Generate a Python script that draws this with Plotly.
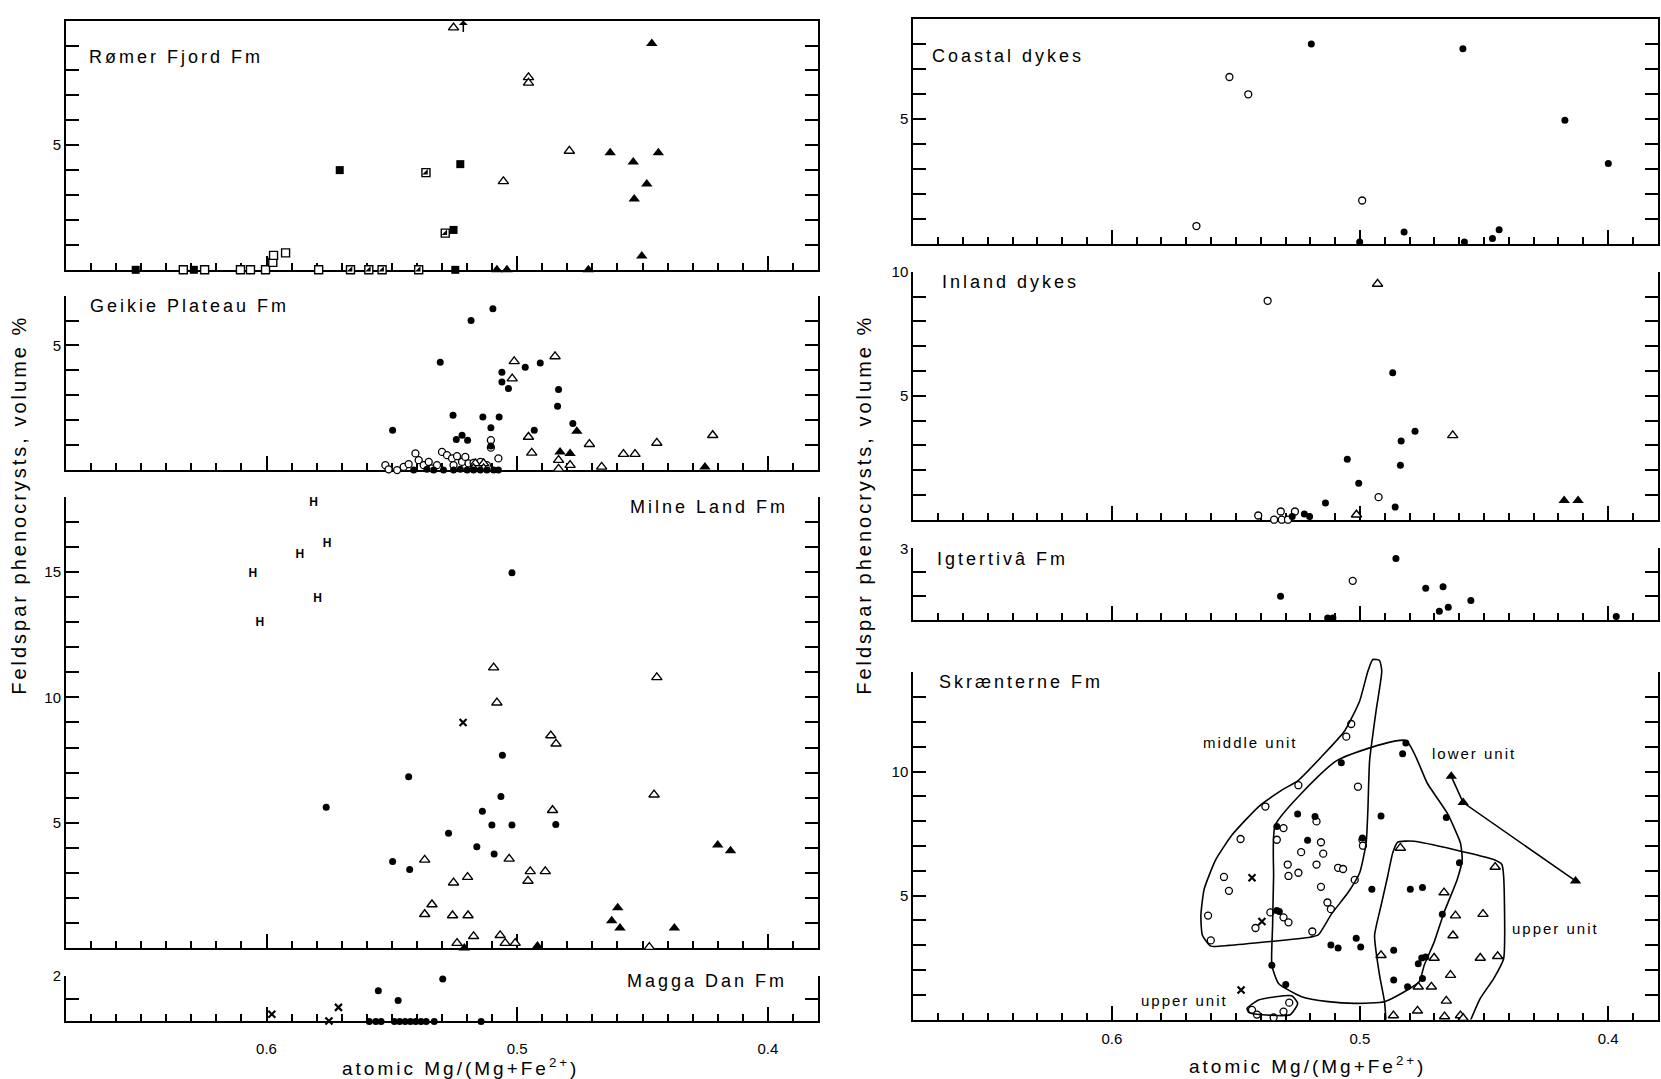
import numpy as np
import plotly.graph_objects as go

FONT = "Liberation Sans, Arial, Helvetica, sans-serif"
W, H = 1661, 1079

# ---------------- data (x = atomic Mg/(Mg+Fe2+), y = feldspar vol %) ----------------
# Rømer Fjord Fm
romer_fsq_x = [0.5708, 0.5227, 0.5254, 0.6522, 0.6290, 0.5247]
romer_fsq_y = [4.0, 4.24, 1.6, 0.0, 0.0, 0.0]
romer_osq_x = [0.6332, 0.6247, 0.6104, 0.6064, 0.6004, 0.5975, 0.5972, 0.5924, 0.5792]
romer_osq_y = [0.0, 0.0, 0.0, 0.0, 0.0, 0.3, 0.58, 0.68, 0.0]
romer_hsq_x = [0.5364, 0.5287, 0.5665, 0.5592, 0.5539, 0.5393]
romer_hsq_y = [3.9, 1.47, 0.0, 0.0, 0.0, 0.0]
romer_otri_x = [0.5254, 0.4955, 0.4955, 0.4792, 0.5055]
romer_otri_y = [9.72, 7.72, 7.5, 4.77, 3.55]
romer_ftri_x = [0.4463, 0.4629, 0.4537, 0.4437, 0.4483, 0.4533, 0.4503, 0.5081, 0.5041, 0.4716]
romer_ftri_y = [9.08, 4.7, 4.33, 4.7, 3.44, 2.84, 0.55, 0.0, 0.0, 0.0]
romer_offscale_x = 0.5215

# Geikie Plateau Fm
geikie_dot_x = [0.5184, 0.5097, 0.5307, 0.4968, 0.4908, 0.5061, 0.5061, 0.5035, 0.4835, 0.4839,
                0.5256, 0.5137, 0.5072, 0.5497, 0.5105, 0.4932, 0.4778, 0.5243, 0.5220, 0.5198,
                0.5105, 0.5493, 0.5413, 0.5360, 0.5333, 0.5294, 0.5254, 0.5227, 0.5200, 0.5174,
                0.5147, 0.5121, 0.5094, 0.5075]
geikie_dot_y = [6.0, 6.47, 4.33, 4.13, 4.3, 3.93, 3.53, 3.27, 3.23, 2.56,
                2.2, 2.13, 2.13, 1.6, 1.7, 1.6, 1.87, 1.23, 1.4, 1.2,
                0.97, -0.07, 0.0, 0.03, 0.0, 0.0, 0.0, 0.03, 0.0, 0.0,
                0.0, 0.0, 0.0, 0.0]
geikie_ocirc_x = [0.5526, 0.5513, 0.5479, 0.5453, 0.5433, 0.5406, 0.5393, 0.5373, 0.5353, 0.5340,
                  0.5320, 0.5300, 0.5280, 0.5260, 0.5240, 0.5220, 0.5207, 0.5194, 0.5174, 0.5154,
                  0.5105, 0.5105, 0.5075, 0.4789, 0.5254, 0.5147, 0.5121]
geikie_ocirc_y = [0.2, 0.03, 0.0, 0.13, 0.24, 0.67, 0.4, 0.2, 0.33, 0.07,
                  0.2, 0.73, 0.6, 0.47, 0.56, 0.33, 0.53, 0.27, 0.29, 0.2,
                  1.2, 0.9, 0.47, -0.07, 0.2, 0.33, 0.2]
geikie_otri_x = [0.5012, 0.4849, 0.5020, 0.4955, 0.4712, 0.4443, 0.4220, 0.4942, 0.4576, 0.4530,
                 0.4835, 0.4789, 0.4835, 0.4663, 0.5167, 0.5134, 0.5174, 0.5134]
geikie_otri_y = [4.36, 4.56, 3.67, 1.33, 1.04, 1.09, 1.4, 0.69, 0.64, 0.64,
                 0.4, 0.2, 0.05, 0.13, 0.27, 0.27, 0.07, 0.07]
geikie_ftri_x = [0.4762, 0.4829, 0.4789, 0.4251]
geikie_ftri_y = [1.56, 0.73, 0.67, 0.13]
geikie_plus_x = [0.6382]
geikie_plus_y = [-0.1]

# Milne Land Fm
milne_h_x = [0.5812, 0.5758, 0.5867, 0.6055, 0.5796, 0.6027]
milne_h_y = [17.77, 16.13, 15.67, 14.93, 13.92, 12.97]
milne_x_x = [0.5216]
milne_x_y = [9.0]
milne_dot_x = [0.5021, 0.5433, 0.5762, 0.5059, 0.5065, 0.5139, 0.5101, 0.5021, 0.4846, 0.5274,
               0.5161, 0.5092, 0.5497, 0.5429]
milne_dot_y = [14.97, 6.84, 5.62, 7.69, 6.05, 5.46, 4.91, 4.91, 4.93, 4.58,
               4.04, 3.75, 3.45, 3.14]
milne_otri_x = [0.5094, 0.5081, 0.4443, 0.4866, 0.4845, 0.4454, 0.4859, 0.5032, 0.5369, 0.5254,
                0.5198, 0.4948, 0.4957, 0.4888, 0.5340, 0.5369, 0.5258, 0.5196, 0.5174, 0.5240,
                0.5068, 0.5048, 0.5008, 0.4473]
milne_otri_y = [11.19, 9.79, 10.8, 8.48, 8.15, 6.12, 5.5, 3.56, 3.52, 2.61,
                2.83, 3.06, 2.68, 3.06, 1.74, 1.35, 1.3, 1.3, 0.47, 0.2,
                0.51, 0.2, 0.2, 0.04]
milne_ftri_x = [0.4200, 0.4149, 0.4599, 0.4623, 0.4590, 0.4373, 0.5211, 0.4919]
milne_ftri_y = [4.11, 3.88, 1.61, 1.09, 0.8, 0.8, 0.0, 0.08]
milne_plus_x = [0.6051, 0.6587, 0.6567, 0.6490, 0.6470]
milne_plus_y = [-0.1, -0.22, -0.22, -0.22, -0.22]

# Magga Dan Fm
magga_x_x = [0.5979, 0.5751, 0.5713]
magga_x_y = [0.32, 0.02, 0.62]
magga_dot_x = [0.5590, 0.5564, 0.5543, 0.5554, 0.5475, 0.5490, 0.5469, 0.5447, 0.5426, 0.5405,
               0.5384, 0.5363, 0.5331, 0.5297, 0.5144]
magga_dot_y = [0.0, 0.0, 0.0, 1.35, 0.92, 0.0, 0.0, 0.0, 0.0, 0.0,
               0.0, 0.0, 0.0, 1.86, 0.0]

# Coastal dykes
coast_ocirc_x = [0.5526, 0.5450, 0.4991, 0.5659]
coast_ocirc_y = [6.68, 5.99, 1.75, 0.73]
coast_dot_x = [0.5196, 0.4585, 0.4174, 0.3999, 0.5001, 0.4822, 0.4579, 0.4466, 0.4439]
coast_dot_y = [8.0, 7.81, 4.95, 3.23, 0.09, 0.49, 0.09, 0.23, 0.58]

# Inland dykes
inland_ocirc_x = [0.5372, 0.4925, 0.5410, 0.5319, 0.5346, 0.5315, 0.5290, 0.5262, 0.5330, 0.5167]
inland_ocirc_y = [8.83, 0.91, 0.17, 0.33, 0.0, 0.0, 0.0, 0.33, -0.49, -0.47]
inland_otri_x = [0.4929, 0.4626, 0.5014]
inland_otri_y = [9.51, 3.4, 0.2]
inland_dot_x = [0.4868, 0.4778, 0.4834, 0.5051, 0.4837, 0.5005, 0.5139, 0.4858, 0.5273, 0.5224, 0.5203]
inland_dot_y = [5.93, 3.57, 3.17, 2.44, 2.2, 1.47, 0.67, 0.51, 0.13, 0.23, 0.13]
inland_ftri_x = [0.4177, 0.4121]
inland_ftri_y = [0.77, 0.77]

# Igtertivâ Fm
igt_ocirc_x = [0.5029]
igt_ocirc_y = [1.64]
igt_dot_x = [0.4855, 0.4735, 0.4665, 0.5320, 0.4553, 0.4680, 0.4644, 0.5130, 0.5109, 0.4432, 0.3967]
igt_dot_y = [2.58, 1.33, 1.39, 0.99, 0.81, 0.36, 0.53, 0.08, 0.08, -0.03, 0.14]

# Skrænterne Fm
sk_ocirc_x = [0.5248, 0.5381, 0.5481, 0.5548, 0.5528, 0.5612, 0.5601, 0.5421, 0.5361, 0.5308,
              0.5288, 0.5308, 0.5335, 0.5291, 0.5288, 0.5248, 0.5237, 0.5175, 0.5157, 0.5175,
              0.5157, 0.5192, 0.4945, 0.5035, 0.5055, 0.5008, 0.5148, 0.5088, 0.5068, 0.4990,
              0.4988, 0.5021, 0.5131, 0.5117,
              0.5435, 0.5415, 0.5348, 0.5308, 0.5285]
sk_ocirc_y = [9.45, 8.59, 7.28, 5.75, 5.19, 4.19, 3.19, 3.69, 4.32, 4.12,
              3.92, 7.72, 7.25, 6.25, 5.79, 5.92, 6.75, 7.99, 7.15, 6.25,
              5.35, 3.55, 14.25, 11.92, 11.41, 9.39, 6.69, 6.12, 6.07, 7.25,
              7.01, 5.63, 4.72, 4.45,
              0.39, 0.2, 0.08, 0.32, 0.68]
sk_dot_x = [0.5335, 0.5251, 0.5211, 0.5181, 0.5335, 0.5325, 0.5355, 0.5299, 0.4815, 0.4828,
            0.5075, 0.4915, 0.4652, 0.4990, 0.4599, 0.4952, 0.4797, 0.4748, 0.4668, 0.5015,
            0.5117, 0.5088, 0.4997, 0.4864, 0.4751, 0.4735, 0.4765, 0.4748, 0.4864, 0.4808]
sk_dot_y = [7.79, 8.29, 7.23, 8.19, 4.4, 4.36, 2.19, 1.41, 11.15, 10.72,
            10.36, 8.21, 8.15, 7.32, 6.32, 5.25, 5.25, 5.32, 4.25, 3.28,
            3.01, 2.88, 2.92, 2.79, 2.48, 2.52, 2.25, 1.65, 1.59, 1.32]
sk_otri_x = [0.4837, 0.4455, 0.4661, 0.4615, 0.4504, 0.4625, 0.4915, 0.4701, 0.4515, 0.4445,
             0.4635, 0.4765, 0.4712, 0.4652, 0.4768, 0.4865, 0.4659, 0.4595, 0.4584]
sk_otri_y = [6.92, 6.15, 5.12, 4.19, 4.25, 3.39, 2.59, 2.48, 2.48, 2.55,
             1.79, 1.32, 1.32, 0.75, 0.35, 0.16, 0.12, 0.16, 0.05]
sk_x_x = [0.5435, 0.5395, 0.5479]
sk_x_y = [5.72, 3.95, 1.19]
sk_lower_trend_x = [0.4632, 0.4584, 0.4131]
sk_lower_trend_y = [9.81, 8.75, 5.59]

# hand-drawn unit envelopes (Skrænterne Fm)
env_middle_x = [0.5601, 0.5635, 0.5641, 0.5628, 0.5581, 0.5515, 0.5408, 0.5315, 0.5248, 0.5155,
                0.5061, 0.5001, 0.4968, 0.4948, 0.4921, 0.4912, 0.4935, 0.4961, 0.4968, 0.4975,
                0.5001, 0.5048, 0.5115, 0.5168, 0.5201, 0.5528, 0.5601]
env_middle_y = [2.96, 3.4, 4.19, 5.25, 6.45, 7.45, 8.59, 9.25, 9.65, 10.6,
                11.65, 12.85, 14.05, 14.52, 14.48, 14.05, 12.45, 10.45, 8.45, 7.12,
                5.92, 5.12, 4.25, 3.41, 3.32, 2.99, 2.96]
env_lower_x = [0.5341, 0.5095, 0.4815, 0.4728, 0.4648, 0.4595, 0.4588, 0.4608, 0.4661, 0.4701,
               0.4741, 0.4761, 0.4821, 0.4901, 0.5021, 0.5128, 0.5235, 0.5328, 0.5355, 0.5352,
               0.5348, 0.5341]
env_lower_y = [7.85, 10.43, 11.25, 9.52, 8.32, 7.12, 6.45, 5.65, 4.32, 3.12,
               2.19, 1.52, 1.12, 0.72, 0.65, 0.72, 0.92, 1.45, 2.19, 3.79,
               5.79, 7.85]
env_upper_x = [0.4895, 0.4901, 0.4921, 0.4941, 0.4915, 0.4888, 0.4868, 0.4848, 0.4781, 0.4461,
               0.4428, 0.4421, 0.4421, 0.4461, 0.4515, 0.4555]
env_upper_y = [-0.05, 0.72, 1.79, 3.39, 4.59, 5.79, 6.72, 7.15, 7.19, 6.45,
               6.25, 5.79, 2.45, 1.65, 0.85, -0.05]
env_upper2_x = [0.5455, 0.5408, 0.5275, 0.5251, 0.5281, 0.5395, 0.5448, 0.5455]
env_upper2_y = [0.45, 0.79, 0.96, 0.65, 0.19, 0.19, 0.29, 0.45]

# tick labels
x_tick_vals = [0.65, 0.60, 0.55, 0.50, 0.45, 0.40]
x_tick_text = ["", "0.6", "", "0.5", "", "0.4"]

# ---------------- layout geometry (pixels of the 1661x1079 page) ----------------
LEFT = (66, 818)
RIGHT = (913.3, 1657.7)
panels = [
    dict(title="Rømer Fjord Fm", col=LEFT, ymax=10, py0=263, py1=11.7, yl={5: "5"}, top=True, xl=False),
    dict(title="Geikie Plateau Fm", col=LEFT, ymax=7, py0=465, py1=289, yl={5: "5"}, top=False, xl=False),
    dict(title="Milne Land Fm", col=LEFT, ymax=18, py0=947, py1=492, yl={5: "5", 10: "10", 15: "15"}, top=False, xl=False),
    dict(title="Magga Dan Fm", col=LEFT, ymax=2, py0=1021, py1=975, yl={2: "2"}, top=False, xl=True),
    dict(title="Coastal dykes", col=RIGHT, ymax=9, py0=237.3, py1=10, yl={5: "5"}, top=True, xl=False),
    dict(title="Inland dykes", col=RIGHT, ymax=10, py0=515, py1=265, yl={5: "5", 10: "10"}, top=False, xl=False),
    dict(title="Igtertivâ Fm", col=RIGHT, ymax=3, py0=616, py1=544, yl={3: "3"}, top=False, xl=False),
    dict(title="Skrænterne Fm", col=RIGHT, ymax=14, py0=1019, py1=669, yl={5: "5", 10: "10"}, top=False, xl=True),
]

fig = go.Figure()

def ax(i, kind):
    return kind if i == 1 else f"{kind}{i}"

minor_vals = [round(v, 2) for v in np.arange(0.38, 0.6801, 0.01)]
layout = {}
for i, p in enumerate(panels, 1):
    xd = [p["col"][0] / W, p["col"][1] / W]
    yd = [1 - p["py0"] / H, 1 - p["py1"] / H]
    layout[ax(i, "xaxis")] = dict(
        domain=xd, range=[0.68, 0.38], anchor=ax(i, "y"),
        showline=True, linecolor="black", linewidth=2, mirror=p["top"],
        ticks="inside", ticklen=14, tickwidth=1.5, tickcolor="black",
        tickmode="array", tickvals=x_tick_vals, ticktext=x_tick_text,
        showticklabels=p["xl"], ticklabelstandoff=(13 if p["col"] == LEFT else 4),
        tickfont=dict(family=FONT, size=15, color="black"),
        minor=dict(tickmode="array", tickvals=minor_vals, ticks="inside", ticklen=7,
                   tickwidth=1.5, tickcolor="black", showgrid=False),
        showgrid=False, zeroline=False, layer="below traces", fixedrange=True,
    )
    yv = list(range(0, p["ymax"] + 1))
    layout[ax(i, "yaxis")] = dict(
        domain=yd, range=[0, p["ymax"]], anchor=ax(i, "x"),
        showline=True, linecolor="black", linewidth=2, mirror="ticks",
        ticks="inside", ticklen=13, tickwidth=1.5, tickcolor="black",
        tickmode="array", tickvals=yv, ticktext=[p["yl"].get(v, "") for v in yv],
        tickfont=dict(family=FONT, size=15, color="black"),
        showgrid=False, zeroline=False, layer="below traces", fixedrange=True,
    )

# invisible overlay axes for the Skrænterne envelopes (same scale, taller domain so the
# envelope tip that rises above the frame is not clipped)
sk = panels[7]
unit_px = (sk["py0"] - sk["py1"]) / sk["ymax"]
ov_top_px = 600
layout["xaxis9"] = dict(domain=[RIGHT[0] / W, RIGHT[1] / W], range=[0.68, 0.38],
                        anchor="y9", visible=False, fixedrange=True)
layout["yaxis9"] = dict(domain=[1 - sk["py0"] / H, 1 - ov_top_px / H],
                        range=[0, (sk["py0"] - ov_top_px) / unit_px],
                        anchor="x9", visible=False, fixedrange=True)

STY = {
    "dot": dict(symbol="circle", size=7, color="black", line=dict(width=0)),
    "ocirc": dict(symbol="circle", size=7, color="white", line=dict(color="black", width=1.3)),
    "otri": dict(symbol="triangle-up", size=9, color="white", line=dict(color="black", width=1.4)),
    "ftri": dict(symbol="triangle-up", size=10, color="black", line=dict(width=0)),
    "fsq": dict(symbol="square", size=8, color="black", line=dict(width=0)),
    "osq": dict(symbol="square", size=8, color="white", line=dict(color="black", width=1.4)),
    "hsq": dict(symbol="triangle-se", size=6, color="black", line=dict(width=0)),
    "x": dict(symbol="x-thin-open", size=7, color="black", line=dict(color="black", width=2.2)),
    "plus": dict(symbol="cross-thin-open", size=10, color="black", line=dict(color="black", width=2)),
}

def pts(i, xs, ys, kind):
    fig.add_trace(go.Scatter(x=xs, y=ys, mode="markers", marker=STY[kind],
                             xaxis=ax(i, "x"), yaxis=ax(i, "y"), cliponaxis=False,
                             hoverinfo="skip", showlegend=False))

def env(xs, ys):
    fig.add_trace(go.Scatter(x=xs, y=ys, mode="lines",
                             line=dict(color="black", width=1.6, shape="spline", smoothing=0.5),
                             xaxis="x9", yaxis="y9", cliponaxis=False,
                             hoverinfo="skip", showlegend=False))

# Skrænterne envelopes first (overlay subplot), points drawn afterwards
env(env_middle_x, env_middle_y)
env(env_lower_x, env_lower_y)
env(env_upper_x, env_upper_y)
env(env_upper2_x, env_upper2_y)

# Rømer Fjord
pts(1, romer_osq_x, romer_osq_y, "osq")
pts(1, romer_hsq_x, romer_hsq_y, "osq")
pts(1, romer_hsq_x, romer_hsq_y, "hsq")
pts(1, romer_fsq_x, romer_fsq_y, "fsq")
pts(1, romer_otri_x, romer_otri_y, "otri")
pts(1, romer_ftri_x, romer_ftri_y, "ftri")
# Geikie Plateau
pts(2, geikie_ocirc_x, geikie_ocirc_y, "ocirc")
pts(2, geikie_otri_x, geikie_otri_y, "otri")
pts(2, geikie_dot_x, geikie_dot_y, "dot")
pts(2, geikie_ftri_x, geikie_ftri_y, "ftri")
pts(2, geikie_plus_x, geikie_plus_y, "plus")
# Milne Land
pts(3, milne_otri_x, milne_otri_y, "otri")
pts(3, milne_dot_x, milne_dot_y, "dot")
pts(3, milne_ftri_x, milne_ftri_y, "ftri")
pts(3, milne_x_x, milne_x_y, "x")
pts(3, milne_plus_x, milne_plus_y, "plus")
fig.add_trace(go.Scatter(x=milne_h_x, y=milne_h_y, mode="text", text=["<b>H</b>"] * len(milne_h_x),
                         textfont=dict(family=FONT, size=12, color="black"),
                         xaxis="x3", yaxis="y3", cliponaxis=False, hoverinfo="skip", showlegend=False))
# Magga Dan
pts(4, magga_dot_x, magga_dot_y, "dot")
pts(4, magga_x_x, magga_x_y, "x")
# Coastal dykes
pts(5, coast_ocirc_x, coast_ocirc_y, "ocirc")
pts(5, coast_dot_x, coast_dot_y, "dot")
# Inland dykes
pts(6, inland_ocirc_x, inland_ocirc_y, "ocirc")
pts(6, inland_otri_x, inland_otri_y, "otri")
pts(6, inland_dot_x, inland_dot_y, "dot")
pts(6, inland_ftri_x, inland_ftri_y, "ftri")
# Igtertivâ
pts(7, igt_ocirc_x, igt_ocirc_y, "ocirc")
pts(7, igt_dot_x, igt_dot_y, "dot")
# Skrænterne
fig.add_trace(go.Scatter(x=sk_lower_trend_x, y=sk_lower_trend_y, mode="lines+markers",
                         line=dict(color="black", width=1.6), marker=STY["ftri"],
                         xaxis="x8", yaxis="y8", cliponaxis=False, hoverinfo="skip", showlegend=False))
pts(8, sk_ocirc_x, sk_ocirc_y, "ocirc")
pts(8, sk_otri_x, sk_otri_y, "otri")
pts(8, sk_dot_x, sk_dot_y, "dot")
pts(8, sk_x_x, sk_x_y, "x")

def sp(t, ls):
    return f'<span style="letter-spacing:{ls}px">{t}</span>'

ann = []
title_pos = [
    (87, 48, "left"), (88, 300, "left"), (790, 502, "right"), (789, 980, "right"),
    (930, 47, "left"), (940, 275, "left"), (935, 555, "left"), (937, 679, "left"),
]
for p, (px, py, anc) in zip(panels, title_pos):
    ann.append(dict(x=px / W, y=1 - py / H, xref="paper", yref="paper", text=sp(p["title"], 3),
                    showarrow=False, xanchor=anc, yanchor="middle",
                    font=dict(family=FONT, size=18, color="black")))
ytitle = sp("Feldspar phenocrysts, volume %", 3)
xtitle = sp("atomic Mg/(Mg+Fe<sup>2+</sup>)", 3)
for px in (19, 864):
    ann.append(dict(x=px / W, y=1 - 500 / H, xref="paper", yref="paper", text=ytitle, textangle=-90,
                    showarrow=False, xanchor="center", yanchor="middle",
                    font=dict(family=FONT, size=20, color="black")))
for px, py in ((460, 1067), (1307, 1065)):
    ann.append(dict(x=px / W, y=1 - py / H, xref="paper", yref="paper", text=xtitle,
                    showarrow=False, xanchor="center", yanchor="middle",
                    font=dict(family=FONT, size=19, color="black")))
for t, x, y in [("middle unit", 0.5442, 11.16), ("lower unit", 0.4541, 10.72),
                ("upper unit", 0.4212, 3.68), ("upper unit", 0.5707, 0.76)]:
    ann.append(dict(x=x, y=y, xref="x8", yref="y8", text=sp(t, 2), showarrow=False,
                    xanchor="center", yanchor="middle", font=dict(family=FONT, size=15, color="black")))
ann.append(dict(x=romer_offscale_x, y=10, xref="x", yref="y", text="", showarrow=True,
                ax=0, ay=13, arrowhead=1, arrowsize=1, arrowwidth=1.5, arrowcolor="black"))

fig.update_layout(
    width=W, height=H, margin=dict(l=0, r=0, t=0, b=0),
    paper_bgcolor="white", plot_bgcolor="rgba(0,0,0,0)", showlegend=False,
    annotations=ann, **layout,
)

fig.write_html("out.html", config={"displayModeBar": False},
               post_script="document.body.style.margin='0';document.body.style.overflow='hidden';")
